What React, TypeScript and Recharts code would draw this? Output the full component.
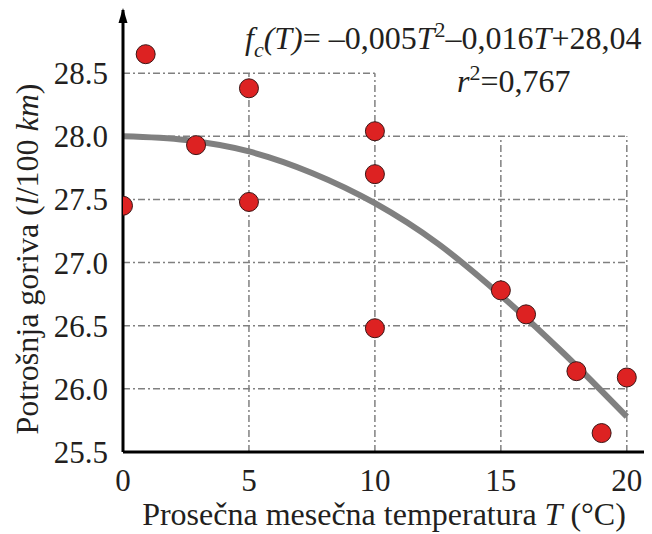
import {
  ComposedChart,
  Line,
  Scatter,
  XAxis,
  YAxis,
  ReferenceLine,
  ReferenceDot,
  Customized,
} from 'recharts';

const temps = [0.9, 0, 2.9, 5, 5, 10, 10, 10, 15, 16, 18, 19, 20];
const consumption = [28.65, 27.45, 27.93, 28.38, 27.48, 28.04, 27.7, 26.48, 26.78, 26.59, 26.14, 25.65, 26.09];

const fitT = [0, 2.5, 5, 7.5, 10, 12.5, 15, 17.5, 20];
const fitValues = [28.0, 27.97, 27.88, 27.71, 27.47, 27.15, 26.74, 26.28, 25.78];

const xTicks = [0, 5, 10, 15, 20];
const yTicks = [25.5, 26.0, 26.5, 27.0, 27.5, 28.0, 28.5];

// dashed grid, only drawn where the original shows it
const hGrid = [
  { y: 28.5, to: 10 },
  { y: 28.0, to: 20 },
  { y: 27.5, to: 20 },
  { y: 27.0, to: 20 },
  { y: 26.5, to: 20 },
  { y: 26.0, to: 20 },
];
const vGrid = [
  { x: 5, to: 28.5 },
  { x: 10, to: 28.5 },
  { x: 15, to: 28.0 },
  { x: 20, to: 28.0 },
];

const points = temps.map((t, i) => ({ x: t, y: consumption[i] }));
const fit = fitT.map((t, i) => ({ x: t, y: fitValues[i] }));

const FONT = 'Liberation Serif';
const INK = '#231f20';
const GRID = '#808080';

const Dot = (props: any) => {
  const { cx, cy } = props;
  if (cx == null || cy == null) return null;
  return <circle cx={cx} cy={cy} r={9.5} fill="#dd2222" stroke="#3b1515" strokeWidth={1} />;
};

const Arrow = (props: any) => {
  const { cx, cy } = props;
  return <path d={`M${cx},${cy - 2} L${cx - 4.5},${cy + 13} L${cx + 4.5},${cy + 13} Z`} fill="#000" />;
};

const Equation = () => (
  <g>
    <text x={237} y={41} fontSize={32} fontFamily={FONT} fill={INK}>
      <tspan fontStyle="italic">f</tspan>
      <tspan fontStyle="italic" fontSize={22} dy={8}>c</tspan>
      <tspan fontStyle="italic" dy={-8}>(T)</tspan>
      <tspan>= –0,005</tspan>
      <tspan fontStyle="italic">T</tspan>
      <tspan fontSize={22} dy={-12}>2</tspan>
      <tspan dy={12}>–0,016</tspan>
      <tspan fontStyle="italic">T</tspan>
      <tspan>+28,04</tspan>
    </text>
    <text x={449} y={84} fontSize={32} fontFamily={FONT} fill={INK}>
      <tspan fontStyle="italic">r</tspan>
      <tspan fontSize={22} dy={-12}>2</tspan>
      <tspan dy={12}>=0,767</tspan>
    </text>
  </g>
);

const XTitle = () => (
  <text x={376} y={517} textAnchor="middle" fontFamily={FONT} fontSize={32} fill={INK}>
    Prosečna mesečna temperatura <tspan fontStyle="italic">T</tspan> (°C)
  </text>
);

const YTitle = () => (
  <text
    x={0}
    y={0}
    transform="translate(30,251) rotate(-90)"
    textAnchor="middle"
    fontFamily={FONT}
    fontSize={32}
    fill={INK}
  >
    Potrošnja goriva (<tspan fontStyle="italic">l</tspan>/100 <tspan fontStyle="italic">km</tspan>)
  </text>
);

export default function App() {
  return (
    <div style={{ width: 644, height: 526 }}>
      <ComposedChart width={644} height={526} margin={{ top: 2, right: 0, left: 0, bottom: 22 }}>
        <XAxis
          type="number"
          dataKey="x"
          domain={[0, 21]}
          ticks={xTicks}
          allowDataOverflow
          height={60}
          axisLine={{ stroke: '#000', strokeWidth: 3 }}
          tickLine={false}
          tickSize={0}
          tickMargin={17}
          tick={{ fontFamily: FONT, fontSize: 31, fill: INK }}
        />
        <YAxis
          type="number"
          dataKey="y"
          domain={[25.5, 29.0]}
          ticks={yTicks}
          allowDataOverflow
          width={115}
          axisLine={{ stroke: '#000', strokeWidth: 3 }}
          tickLine={false}
          tickSize={0}
          tickMargin={15}
          tickFormatter={(v: number) => v.toFixed(1)}
          tick={{ fontFamily: FONT, fontSize: 31, fill: INK }}
        />
        {hGrid.map((g) => (
          <ReferenceLine
            key={`h-${g.y}`}
            segment={[{ x: 0, y: g.y }, { x: g.to, y: g.y }]}
            stroke={GRID}
            strokeWidth={1.5}
            strokeDasharray="7 3 2 3"
          />
        ))}
        {vGrid.map((g) => (
          <ReferenceLine
            key={`v-${g.x}`}
            segment={[{ x: g.x, y: 25.5 }, { x: g.x, y: g.to }]}
            stroke={GRID}
            strokeWidth={1.5}
            strokeDasharray="7 3 2 3"
          />
        ))}
        <Line
          data={fit}
          dataKey="y"
          type="monotone"
          stroke={GRID}
          strokeWidth={6}
          dot={false}
          activeDot={false}
          isAnimationActive={false}
        />
        <Scatter data={points} dataKey="y" shape={<Dot />} isAnimationActive={false} />
        <ReferenceDot x={0} y={29.0} ifOverflow="visible" shape={<Arrow />} />
        <Customized component={<Equation />} />
        <Customized component={<XTitle />} />
        <Customized component={<YTitle />} />
      </ComposedChart>
    </div>
  );
}
